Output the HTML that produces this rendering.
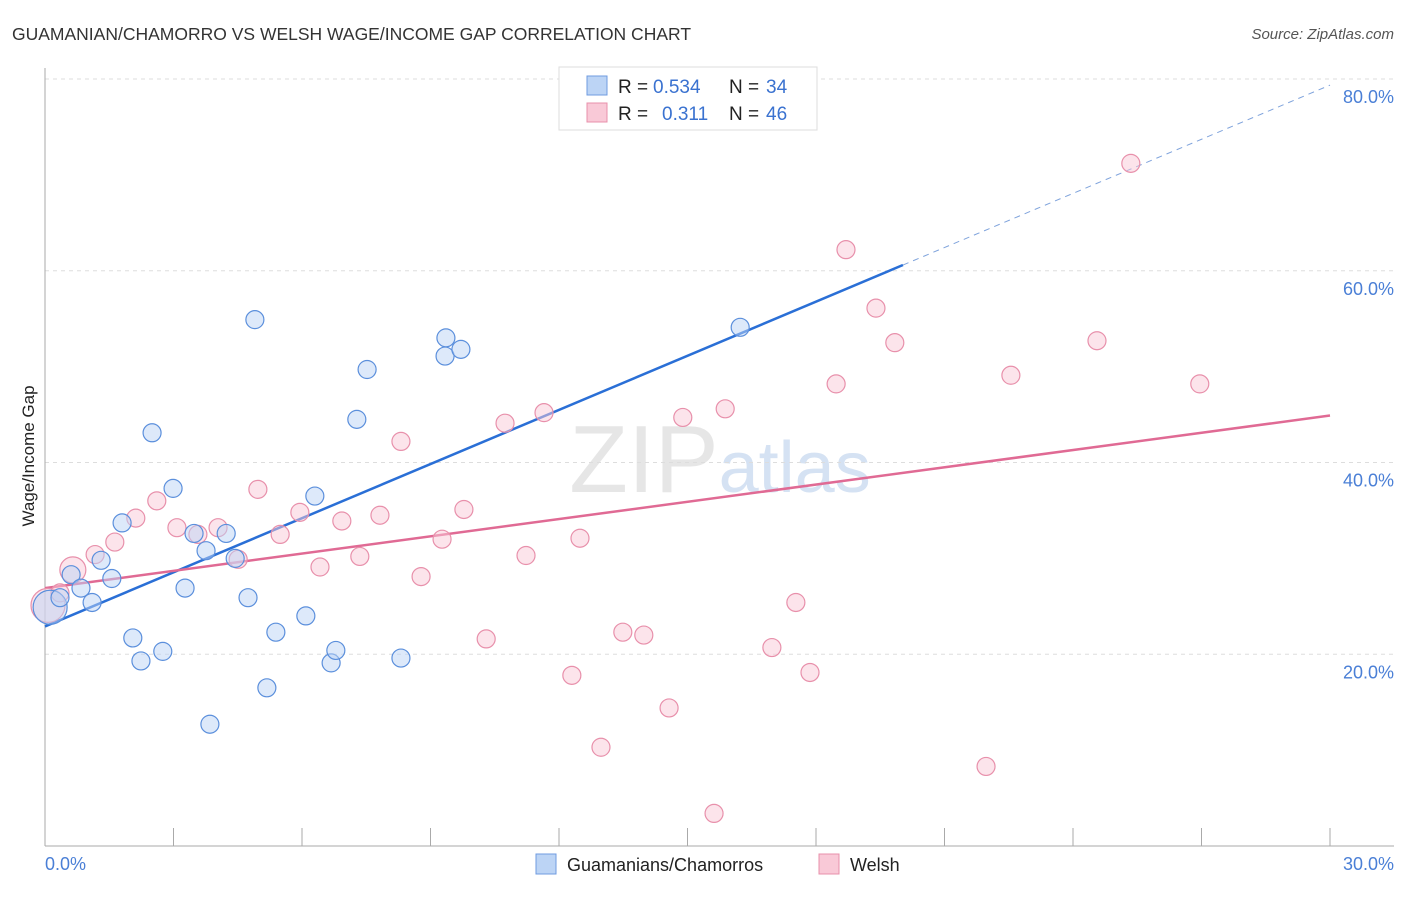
<!DOCTYPE html>
<html><head><meta charset="utf-8"><style>
body{margin:0;background:#fff;font-family:"Liberation Sans",sans-serif}
svg text{font-family:"Liberation Sans",sans-serif}
</style></head><body>
<svg id="chart" width="1406" height="892" viewBox="0 0 1406 892" xmlns="http://www.w3.org/2000/svg">
<text x="12" y="40" font-size="17.5" fill="#333">GUAMANIAN/CHAMORRO VS WELSH WAGE/INCOME GAP CORRELATION CHART</text>
<text x="1394" y="39" font-size="15" fill="#555" text-anchor="end" font-style="italic">Source: ZipAtlas.com</text>
<text x="720" y="492" font-size="96" fill="#e6e6e6" text-anchor="middle" font-family="Liberation Serif">ZIP<tspan fill="#d5e2f3" font-family="Liberation Sans" font-size="72">atlas</tspan></text>
<g id="grid"></g>
<line x1="45" y1="68" x2="45" y2="846" stroke="#aaa"/>
<line x1="45" y1="846" x2="1394" y2="846" stroke="#aaa"/>
<text transform="translate(34,456) rotate(-90)" font-size="17" fill="#222" text-anchor="middle">Wage/Income Gap</text>
<text x="45" y="870" font-size="18" fill="#4a7fd6">0.0%</text>
<text x="1394" y="870" font-size="18" fill="#4a7fd6" text-anchor="end">30.0%</text>
<g id="ticks"></g>
<g id="lines"></g>
<g id="points"></g>
<g>
<rect x="559" y="67" width="258" height="63" fill="#fff" stroke="#ddd"/>
<rect x="587" y="76" width="20" height="19" fill="#bcd4f5" stroke="#6f9be0"/>
<rect x="587" y="103" width="20" height="19" fill="#f9c9d7" stroke="#e890ab"/>
<text x="618" y="93" font-size="19" fill="#222">R =</text>
<text x="653" y="93" font-size="19" fill="#3a72d0">0.534</text>
<text x="729" y="93" font-size="19" fill="#222">N =</text>
<text x="766" y="93" font-size="19" fill="#3a72d0">34</text>
<text x="618" y="120" font-size="19" fill="#222">R =</text>
<text x="662" y="120" font-size="19" fill="#3a72d0">0.311</text>
<text x="729" y="120" font-size="19" fill="#222">N =</text>
<text x="766" y="120" font-size="19" fill="#3a72d0">46</text>
</g>
<g>
<rect x="536" y="854" width="20" height="20" fill="#bcd4f5" stroke="#6f9be0"/>
<text x="567" y="871" font-size="18" fill="#222">Guamanians/Chamorros</text>
<rect x="819" y="854" width="20" height="20" fill="#f9c9d7" stroke="#e890ab"/>
<text x="850" y="871" font-size="18" fill="#222">Welsh</text>
</g>
</svg>
<script>
const yTicks=[20,40,60,80];
const yTickLabels=["20.0%","40.0%","60.0%","80.0%"];
const xTicks=[3,6,9,12,15,18,21,24,27,30];
const blueX=[0.12,0.35,0.61,0.84,1.10,1.31,1.56,1.80,2.05,2.24,2.50,2.75,2.99,3.27,3.48,3.76,3.85,4.23,4.44,4.74,4.90,5.18,5.39,6.09,6.30,6.68,6.79,7.28,7.52,8.31,9.34,9.36,9.71,16.23];
const blueY=[24.9,25.9,28.3,26.9,25.4,29.8,27.9,33.7,21.7,19.3,43.1,20.3,37.3,26.9,32.6,30.8,12.7,32.6,30.0,25.9,54.9,16.5,22.3,24.0,36.5,19.1,20.4,44.5,49.7,19.6,51.1,53.0,51.8,54.1];
const pinkX=[0.07,0.35,0.65,1.17,1.63,2.12,2.61,3.08,3.57,4.04,4.51,4.97,5.49,5.95,6.42,6.93,7.35,7.82,8.31,8.78,9.27,9.78,10.30,10.74,11.23,11.65,12.30,12.49,12.98,13.49,13.98,14.57,14.89,15.62,15.88,16.97,17.53,17.86,18.47,18.70,19.40,19.84,21.97,22.55,24.56,25.35,26.96];
const pinkY=[25.1,26.4,28.8,30.4,31.7,34.2,36.0,33.2,32.5,33.2,29.9,37.2,32.5,34.8,29.1,33.9,30.2,34.5,42.2,28.1,32.0,35.1,21.6,44.1,30.3,45.2,17.8,32.1,10.3,22.3,22.0,14.4,44.7,3.4,45.6,20.7,25.4,18.1,48.2,62.2,56.1,52.5,8.3,49.1,52.7,71.2,48.2];
const blueTrend=[22.9,1.882];
const pinkTrend=[26.9,0.6];
const NS="http://www.w3.org/2000/svg";
const X=v=>45+v/30*1285;
const Y=v=>846-v/80*767;
function mk(tag,attrs,parent){const e=document.createElementNS(NS,tag);for(const k in attrs)e.setAttribute(k,attrs[k]);document.getElementById(parent).appendChild(e);return e;}
yTicks.forEach((t,i)=>{
 const g=mk('line',{x1:45,x2:1394,y1:Y(t),y2:Y(t),stroke:'#ddd','stroke-dasharray':'4,4'},'grid');
 
 
 const l=mk('text',{x:1394,y:Y(t)+24,'font-size':18,fill:'#4a7fd6','text-anchor':'end'},'ticks');
 l.textContent=yTickLabels[i];
 
 
});
xTicks.forEach(t=>{
 const l=mk('line',{x1:X(t),x2:X(t),y1:828,y2:846,stroke:'#aaa'},'ticks');
 
 
});
function pts(xs,ys,fill,stroke,name){
 xs.forEach((x,i)=>{
  const big=(name==='welsh-point'&&i<3&&i!==1)||(name==='guamanian-point'&&i===0);
  const c=mk('circle',{cx:X(x),cy:Y(ys[i]),r:big?(i===0?17:13):9,fill:fill,'fill-opacity':0.5,stroke:stroke,'stroke-width':1.2},'points');
  
  
 });
}
pts(pinkX,pinkY,'#f9c9d7','#e890ab','welsh-point');
pts(blueX,blueY,'#bcd4f5','#5b8fdc','guamanian-point');
const bEnd=20.03;
let e=mk('line',{x1:X(0),y1:Y(blueTrend[0]),x2:X(bEnd),y2:Y(blueTrend[0]+blueTrend[1]*bEnd),stroke:'#2a6fd6','stroke-width':2.5},'lines');


e=mk('line',{x1:X(bEnd),y1:Y(blueTrend[0]+blueTrend[1]*bEnd),x2:X(30),y2:Y(blueTrend[0]+blueTrend[1]*30),stroke:'#7fa3dc','stroke-width':1,'stroke-dasharray':'6,5'},'lines');


e=mk('line',{x1:X(0),y1:Y(pinkTrend[0]),x2:X(30),y2:Y(pinkTrend[0]+pinkTrend[1]*30),stroke:'#e06a94','stroke-width':2.5},'lines');


</script>
</body></html>
